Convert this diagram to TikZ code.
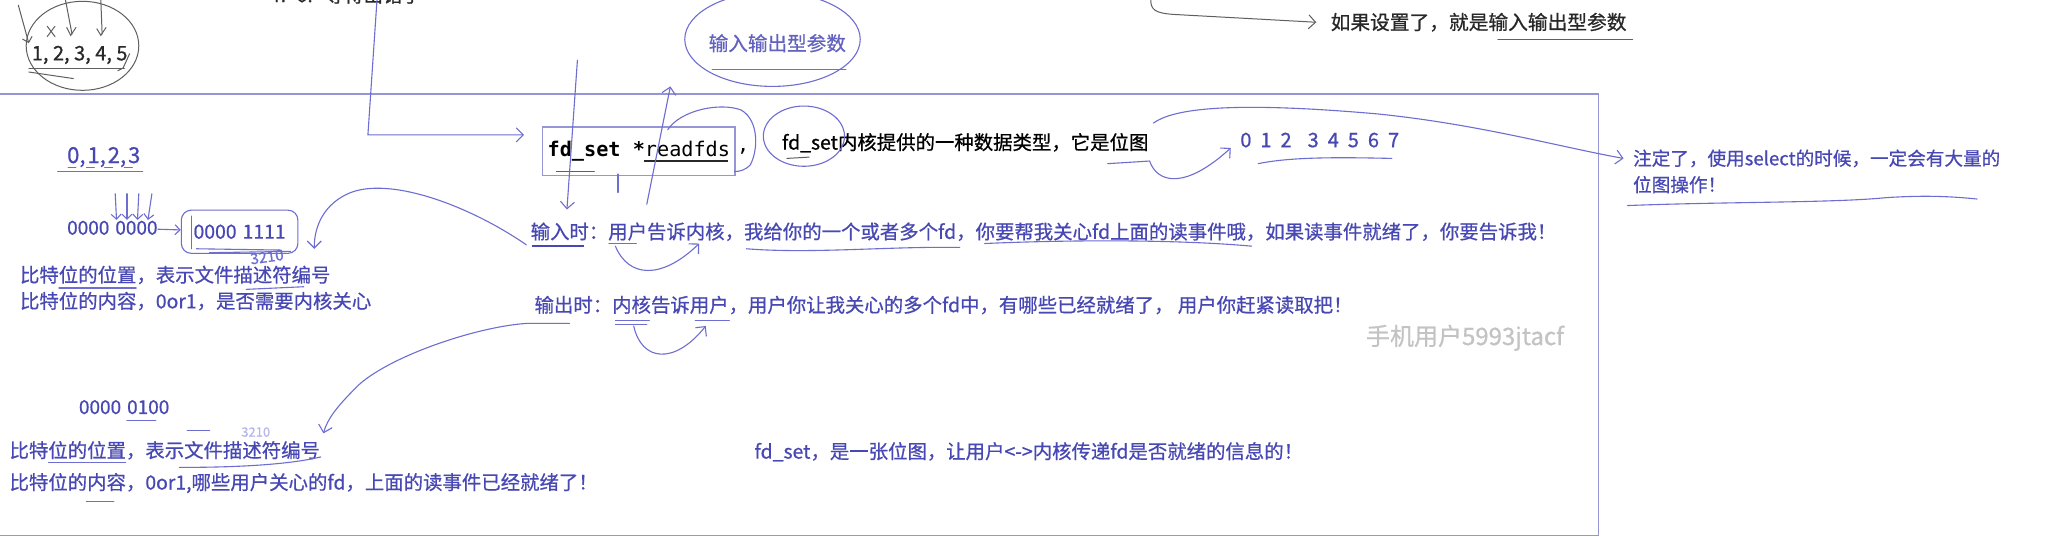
\documentclass[tikz,border=0pt]{standalone}
\usepackage{fontspec}
\setmainfont{Noto Sans CJK SC}[RawFeature={embolden=0.7}]
\newfontfamily\monofont{DejaVu Sans Mono}
\usetikzlibrary{arrows.meta,shapes.geometric}
\definecolor{tblue}{RGB}{72,72,180}
\definecolor{lblue}{RGB}{110,110,210}
\definecolor{boxc}{RGB}{150,150,215}
\definecolor{dgray}{RGB}{40,40,40}
\definecolor{mgray}{RGB}{95,95,95}
\definecolor{wm}{RGB}{195,195,195}
\begin{document}
\begin{tikzpicture}[x=0.65465pt, y=-0.65465pt,
  every node/.style={inner sep=0pt},
  txt/.style={font=\fontsize{9.7}{12}\selectfont, text=tblue, anchor=west},
  hand/.style={draw=lblue, line width=0.55pt, line cap=round},
  gline/.style={draw=mgray, line width=0.5pt, line cap=round},
  barb/.style={-{Straight Barb[length=3.5pt,width=7pt]}},
  sbarb/.style={-{Straight Barb[length=2.5pt,width=5pt]}}]
\useasboundingbox (0,0) rectangle (1568,410);
\fill[white] (0,0) rectangle (1568,410);

% main frame
\draw[boxc, line width=0.8pt] (0,72) -- (1221,72) -- (1221,409) -- (0,409);

% ---------- top strip ----------
\node[txt, text=dgray] (errtxt) at (209,-4) {n<0:\hspace{6pt}等待出错了};

\node[txt, text=dgray, font=\fontsize{10}{12}\selectfont] (nums) at (24,42) {1, 2, 3, 4, 5};
\draw[gline] (63,35) ellipse [x radius=43, y radius=34];
\draw[gline, sbarb] (14,4) -- (22,33);
\draw[gline] (50,0) -- (55,26);
\draw[gline] (51,21) -- (54,27) -- (58,21);
\draw[gline] (77,0) -- (78,26);
\draw[gline] (74,22) -- (77,27) -- (81,21);
\draw[gline] (36,20) -- (42,28) (42,20) -- (36,28);
\draw[gline] (99,41) -- (94,52) -- (90,54);
\draw[gline] (22,52) -- (95,52);
\draw[gline] (22,55) -- (56,60);

\node[txt, text=tblue!85!white, font=\fontsize{9.8}{12}\selectfont] (inout) at (541,33) {输入输出型参数};
\draw[hand] (590,30) ellipse [x radius=67, y radius=36];
\draw[hand] (544,53) -- (646,53);

\node[txt, text=dgray, font=\fontsize{9.86}{12}\selectfont] (ifset) at (1016,17) {如果设置了，就是输入输出型参数};
\draw[gline, barb] (879,-2) .. controls (878,8) and (883,10) .. (896,11) -- ([xshift=-7pt]ifset.west);
\draw[gline] (1144,30) -- (1247,30);

% ---------- fd_set declaration ----------
\node[draw=boxc, line width=0.6pt, minimum width=96.2pt, minimum height=24.2pt,
      anchor=west, text=black, font={\monofont\fontsize{10.1}{12}\selectfont}]
      (fdbox) at (414,115.5) {\bfseries fd\_set *\mdseries readfds};
\node[anchor=west, text=black, font={\monofont\fontsize{10.1}{12}\selectfont}]
      (comma) at ([xshift=0.5pt]fdbox.east) {,};
\draw[dgray, line width=1pt] (492,123) -- (556,123);
\draw[gline] (425,131) -- (454,131);
\draw[hand] (510,99) .. controls (520,84) and (550,78) .. (566,84)
            .. controls (580,92) and (579,115) .. (573,126)
            .. controls (569,130) and (565,131) .. (561,131);

\coordinate (fdin) at ([xshift=-9pt]fdbox.west);
\coordinate (t1) at (288,-1);
\draw[hand, barb] (t1) -- (281,103) -- (fdin |- 0,103);

\node[txt, text=black] (fdtype) at (597,109) {fd\_set内核提供的一种数据类型，它是位图};
\draw[hand] (614,104) ellipse [x radius=31, y radius=23];
\draw[gline] (601,121) -- (618,120);

\node[txt, font=\fontsize{10}{12}\selectfont] (bits) at (947,107)
  {0\hspace{4.5pt}1\hspace{4.5pt}2\hspace{8pt}3\hspace{4.5pt}4\hspace{4.5pt}5\hspace{4.5pt}6\hspace{4.5pt}7};
\draw[hand] (961,125) .. controls (985,120) and (1020,120) .. (1063,121);
\draw[hand, barb] (846,125) -- (878,123) .. controls (884,140) and (905,145) .. (940,113);
\coordinate (zdin) at (1240,121);
\draw[hand, barb] (881,94) .. controls (900,80) and (960,79) .. (1052,87)
                  .. controls (1130,95) and (1190,112) .. (zdin);

\node[txt, font=\fontsize{9.3}{12}\selectfont] (zd1) at (1247,121) {注定了，使用select的时候，一定会有大量的};
\node[txt, font=\fontsize{9.3}{12}\selectfont] (zd2) at (1247,141) {位图操作！};
\draw[hand] (1243,157) .. controls (1320,154) and (1400,155) .. (1440,151)
            .. controls (1470,149) and (1490,150) .. (1510,152);

% ---------- input / output sentences ----------
\node[txt] (inp) at (405,177) {输入时：用户告诉内核，我给你的一个或者多个fd，你要帮我关心fd上面的读事件哦，如果读事件就绪了，你要告诉我！};
\node[txt] (outp) at (408,233) {输出时：内核告诉用户，用户你让我关心的多个fd中，有哪些已经就绪了，\ 用户你赶紧读取把！};
\node[txt, text=wm, font=\fontsize{12}{14}\selectfont] (wmk) at (1043,258) {手机用户5993jtacf};

\coordinate (v1) at (441,46);
\draw[hand, barb] (v1) -- (433,160);
\draw[hand] (472,133) -- (472,147);
\coordinate (upA) at (494,156);
\draw[hand, barb] (upA) -- (512,66);

\draw[tblue, line width=1pt] (406,188) -- (446,188);
\draw[hand] (465,186) -- (486,186);
\draw[hand, barb] (470,188) .. controls (480,212) and (505,214) .. (534,186);
\draw[hand] (570,190) .. controls (620,194) and (680,188) .. (733,189);
\draw[hand] (752,186) .. controls (820,183) and (900,183) .. (956,188);

\draw[hand] (470,245) -- (496,245) (470,247.5) -- (494,247.5);
\draw[hand, barb] (484,249) .. controls (490,276) and (515,279) .. (539,249);
\draw[hand] (531,245) -- (557,245);

% ---------- left column, input ----------
\node[txt, font=\fontsize{11}{12}\selectfont] (b0123) at (51,120) {0,\hspace{1pt}1,\hspace{1pt}2,\hspace{1pt}3};
\draw[hand] (44,131) -- (109,131);
\draw[hand] (52,128) -- (58,128) (66,128) -- (72,128) (80,128) -- (86,128) (95,128) -- (101,128);

\foreach \xa/\xb in {88/89, 97/97, 106/105, 116/113}
  \draw[hand, sbarb] (\xa,148) -- (\xb,168);

\node[txt, font=\fontsize{9.5}{12}\selectfont] (z0) at (51,174) {0000\hspace{3pt}0000};
\node[draw=lblue, line width=0.55pt, rounded corners=5pt, minimum width=58.3pt, minimum height=21.6pt,
      text=tblue, font=\fontsize{9.7}{12}\selectfont] (z1) at (183,177) {0000\hspace{3pt}1111};
\draw[hand, sbarb] (z0) -- (z1);
\draw[hand] (146,165) -- (146,190);
\draw[hand] (150,190) -- (215,191) (160,193) -- (222,192);
\node[txt, text=lblue, font=\fontsize{7.5}{9}\selectfont, rotate=8] (d3210) at (191,198) {3210};

\draw[hand, barb] (402,187) .. controls (360,158) and (300,135) .. (268,147)
                  .. controls (248,155) and (240,172) .. (240,190);

\node[txt] (pos1) at (15,210) {比特位的位置，表示文件描述符编号};
\draw[hand] (45,220) -- (104,220);
\node[txt] (con1) at (15,230) {比特位的内容，0or1，是否需要内核关心};
\draw[hand] (188,221) -- (232,219);

% ---------- left column, output ----------
\draw[hand, barb] (435,247) -- (402,247) .. controls (360,250) and (290,275) .. (270,298)
                  .. controls (258,310) and (250,320) .. (247,331);

\node[txt, font=\fontsize{9.5}{12}\selectfont] (z2) at (60,311) {0000\hspace{3pt}0100};
\draw[hand] (97,321) -- (119,321);
\draw[hand] (143,329) -- (160,329);
\node[txt, text=lblue!50!white, font=\fontsize{6.5}{8}\selectfont] (d3210b) at (184,330) {3210};

\node[txt] (pos2) at (7,344) {比特位的位置，表示文件描述符编号};
\draw[hand] (37,353) -- (96,353);
\draw[hand] (137,357) .. controls (180,357) and (220,355) .. (245,349);
\node[txt] (con2) at (7,369) {比特位的内容，0or1,哪些用户关心的fd，上面的读事件已经就绪了！};
\draw[hand] (66,383) -- (87,383);

\node[txt] (fdsum) at (576,345) {fd\_set，是一张位图，让用户<->内核传递fd是否就绪的信息的！};
\end{tikzpicture}
\end{document}
